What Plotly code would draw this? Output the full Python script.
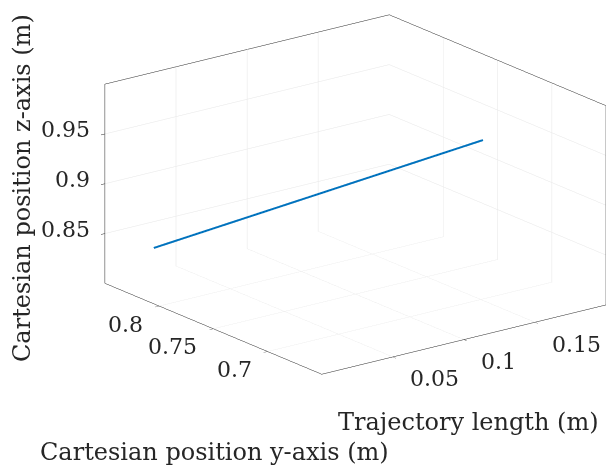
import plotly.graph_objects as go

# Data
traj_length = [0.0, 0.15]
pos_y = [0.805, 0.698]
pos_z = [0.856, 0.961]

x_ticks = [0.05, 0.1, 0.15]
y_ticks = [0.7, 0.75, 0.8]
z_ticks = [0.85, 0.9, 0.95]
x_range = [0.0, 0.2]
y_range = [0.65, 0.85]
z_range = [0.8, 1.0]

FONT = "DejaVu Serif"
EDGE = "#262626"
GRID = "#e6e6e6"
TICKFONT = dict(family=FONT, size=22, color=EDGE)

fig = go.Figure()
fig.add_trace(go.Scatter3d(
    x=traj_length, y=pos_y, z=pos_z, mode="lines",
    line=dict(color="#0072BD", width=4), showlegend=False, hoverinfo="skip"))

def ax(rng, ticks):
    return dict(
        range=rng, tickvals=ticks, showticklabels=False,
        showbackground=False, showgrid=True, gridcolor=GRID, gridwidth=1,
        showline=True, linecolor=EDGE, linewidth=1, mirror=True,
        zeroline=False, showspikes=False, ticks="outside", ticklen=5,
        tickcolor=EDGE, title=dict(text=""), autorange=False)

# tick labels placed at the tick positions on the box edges
tick_ann = []
for t in x_ticks:
    tick_ann.append(dict(x=t, y=y_range[0], z=z_range[0], text=f"{t:g}",
                         showarrow=False, xanchor="left", yanchor="middle",
                         xshift=15, yshift=-22, font=TICKFONT))
for t in y_ticks:
    tick_ann.append(dict(x=x_range[0], y=t, z=z_range[0], text=f"{t:g}",
                         showarrow=False, xanchor="right", yanchor="middle",
                         xshift=-14, yshift=-18, font=TICKFONT))
for t in z_ticks:
    tick_ann.append(dict(x=x_range[0], y=y_range[1], z=t, text=f"{t:g}",
                         showarrow=False, xanchor="right", yanchor="middle",
                         xshift=-13, yshift=4, font=TICKFONT))

s = 1.528
cen = dict(x=-0.2111, y=0.0932, z=-0.1599)
dirv = (-0.5746, -0.7535, 0.3198)
eye = dict(x=cen["x"] + 2 * dirv[0], y=cen["y"] + 2 * dirv[1], z=cen["z"] + 2 * dirv[2])
fig.update_layout(
    width=606, height=468, margin=dict(l=0, r=0, t=0, b=0),
    paper_bgcolor="white", plot_bgcolor="white",
    scene=dict(
        domain=dict(x=[0, 1.0], y=[0, 1.0]),
        xaxis=ax(x_range, x_ticks),
        yaxis=ax(y_range, y_ticks),
        zaxis=ax(z_range, z_ticks),
        aspectmode="manual", aspectratio=dict(x=1 * s, y=1 * s, z=0.588 * s),
        camera=dict(eye=eye, center=cen, up=dict(x=0, y=0, z=1),
                    projection=dict(type="orthographic")),
        annotations=tick_ann,
    ),
    annotations=[
        dict(text="Cartesian position z-axis (m)", x=22, y=188, xref="paper", yref="paper",
             showarrow=False, textangle=-90, font=dict(family=FONT, size=24, color=EDGE)),
        dict(text="Trajectory length (m)", x=468, y=422, showarrow=False,
             font=dict(family=FONT, size=24, color=EDGE)),
        dict(text="Cartesian position y-axis (m)", x=214, y=452, showarrow=False,
             font=dict(family=FONT, size=24, color=EDGE)),
    ],
)

# convert pixel positions for annotations to paper coords
W, H = 606, 468
for a in fig.layout.annotations:
    a.xref = "paper"; a.yref = "paper"
    a.x = a.x / W
    a.y = 1 - a.y / H
    a.xanchor = "center"; a.yanchor = "middle"

fig.write_html("out.html")
